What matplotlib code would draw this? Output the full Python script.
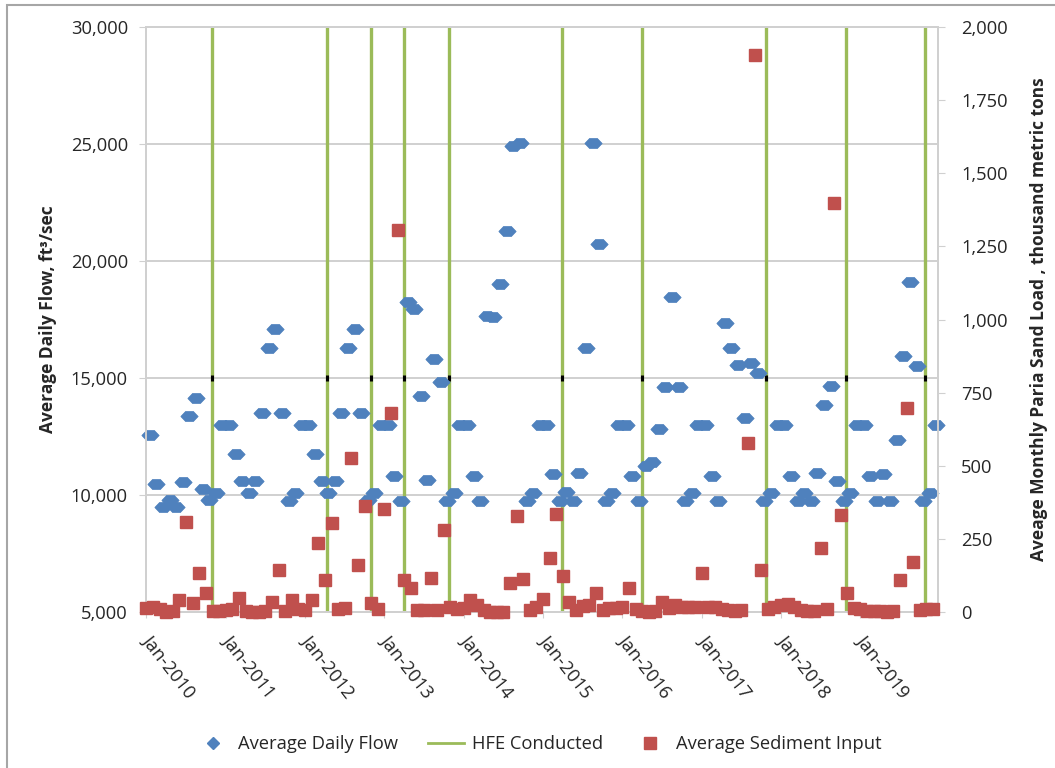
import matplotlib
matplotlib.use("Agg")
import matplotlib.pyplot as plt
import numpy as np
from matplotlib.lines import Line2D
from matplotlib.patches import Rectangle
from matplotlib.ticker import FuncFormatter, MultipleLocator

plt.rcParams['font.family'] = ['Open Sans', 'DejaVu Sans']

# monthly values, Jan-2010 .. Dec-2019 (month index 0..119)
flow_cfs = [
    12550, 10450, 9480, 9790, 9480, 10570, 13380, 14160, 10240, 9790, 10100, 13000,
    13000, 11740, 10600, 10070, 10600, 13490, 16270, 17080, 13490, 9750, 10100, 13000,
    13000, 11740, 10600, 10070, 10600, 13490, 16270, 17080, 13490, 9790, 10100, 13000,
    13000, 10810, 9750, 18260, 17940, 14230, 10640, 15800, 14840, 9750, 10070, 13000,
    13000, 10810, 9750, 17650, 17590, 19000, 21300, 24920, 25030, 9750, 10070, 13000,
    13000, 10900, 9750, 10140, 9750, 10960, 16270, 25030, 20730, 9750, 10070, 13000,
    13000, 10810, 9750, 11250, 11420, 12810, 14600, 18450, 14600, 9750, 10100, 13000,
    13000, 10810, 9750, 17340, 16270, 15560, 13280, 15650, 15200, 9750, 10070, 13000,
    13000, 10810, 9750, 10100, 9750, 10960, 13850, 14660, 10600, 9750, 10100, 13000,
    13000, 10810, 9750, 10900, 9750, 12350, 15940, 19120, 15510, 9750, 10100, 13000,
]

sediment_kt = [
    14, 18, 9, 1, 3, 41, 309, 32, 132, 64, 5, 5,
    7, 12, 47, 5, 1, 1, 3, 35, 144, 5, 41, 10,
    7, 41, 235, 109, 303, 9, 13, 525, 161, 364, 32, 9,
    351, 681, 1306, 109, 81, 7, 7, 115, 7, 280, 18, 11,
    13, 41, 24, 7, 1, 1, 1, 98, 328, 112, 7, 18,
    43, 184, 334, 123, 35, 7, 21, 24, 64, 7, 13, 13,
    18, 81, 9, 3, 1, 5, 35, 13, 24, 16, 16, 18,
    135, 16, 16, 9, 7, 3, 7, 577, 1904, 144, 9, 16,
    24, 27, 16, 7, 3, 5, 220, 9, 1399, 332, 64, 13,
    9, 3, 3, 3, 1, 5, 109, 696, 172, 7, 9, 9,
]

# HFE dates as fractional month index
hfe_months = [9.45, 26.8, 33.5, 38.4, 45.3, 62.4, 74.4, 93.3, 105.3, 117.3]
hfe_marker_level = 15000

years = list(range(2010, 2020))
year_labels = ["Jan-{}".format(y) for y in years]

BLUE = "#4F81BD"
RED = "#C0504D"
GREEN = "#9BBB59"
GRID = "#D0D0D0"
TEXT = "#262626"
FS = 13.2

months = np.arange(len(flow_cfs))
# sediment is reported at the start of each month, flow at mid-month
sed_months = months - 0.5

fig = plt.figure(figsize=(10.55, 7.68), dpi=100)
ax1 = fig.add_axes([0.1384, 0.2031, 0.7504, 0.7617])
ax2 = ax1.twinx()

for m in hfe_months:
    ax1.axvline(m, color=GREEN, lw=2.4, zorder=2)
ax1.plot(hfe_months, [hfe_marker_level] * len(hfe_months), ls="none",
         marker="|", ms=5, mew=2.2, color="black", zorder=3)

# flattened diamond, the way the flow series shows up
hexmark = [(-1, 0), (-0.45, 0.58), (0.45, 0.58), (1, 0), (0.45, -0.58), (-0.45, -0.58), (-1, 0)]
ax1.plot(months, flow_cfs, ls="none", marker=hexmark, ms=12.5,
         color=BLUE, mec=BLUE, mew=0.5, zorder=4, clip_on=False)

ax2.plot(sed_months, sediment_kt, ls="none", marker="s", ms=8,
         color=RED, mec=RED, zorder=5, clip_on=False)

ax1.set_xlim(-0.56, 119.2)
ax1.set_ylim(5000, 30000)
ax2.set_ylim(0, 2000)

ax1.yaxis.set_major_locator(MultipleLocator(5000))
ax2.yaxis.set_major_locator(MultipleLocator(250))
comma = FuncFormatter(lambda v, p: "{:,.0f}".format(v))
ax1.yaxis.set_major_formatter(comma)
ax2.yaxis.set_major_formatter(comma)

ax1.grid(axis="y", color=GRID, lw=1.4)
ax1.set_axisbelow(True)

tick_pos = [12 * i - 0.5 for i in range(len(years))]
ax1.set_xticks(tick_pos)
ax1.set_xticklabels(year_labels, rotation=-52, ha="left", va="center",
                    rotation_mode="anchor")
ax1.tick_params(axis="x", length=4, color=GRID, pad=14, labelsize=FS, labelcolor=TEXT)
ax1.tick_params(axis="y", length=5, color=GRID, labelsize=FS, labelcolor=TEXT, pad=8)
ax2.tick_params(axis="y", length=5, color=GRID, labelsize=FS, labelcolor=TEXT, pad=12)

for ax in (ax1, ax2):
    for side in ("left", "right", "bottom", "top"):
        ax.spines[side].set_color(GRID)
        ax.spines[side].set_linewidth(1.4)

ax1.set_ylabel("Average Daily Flow, ft³/sec", fontsize=12.5, fontweight="bold",
               color=TEXT, labelpad=10)
ax2.set_ylabel("Aveage Monthly Paria Sand Load , thousand metric tons", fontsize=12.5,
               fontweight="bold", color=TEXT, labelpad=16)

handles = [
    Line2D([], [], ls="none", marker="D", ms=6, color=BLUE, mec=BLUE),
    Line2D([], [], color=GREEN, lw=2),
    Line2D([], [], ls="none", marker="s", ms=9, color=RED, mec=RED),
]
fig.legend(handles, ["Average Daily Flow", "HFE Conducted", "Average Sediment Input"],
           loc="center", bbox_to_anchor=(0.51, 0.031), ncol=3, frameon=False,
           fontsize=FS, handlelength=2.0, columnspacing=1.6, handletextpad=0.4,
           labelcolor=TEXT)

fig.patches.append(Rectangle((7 / 1055, -0.02), 1.1, 1 - 5 / 768 + 0.02,
                             transform=fig.transFigure, fill=False,
                             edgecolor="#A6A6A6", lw=1.5))

fig.savefig("out.png", dpi=100)
